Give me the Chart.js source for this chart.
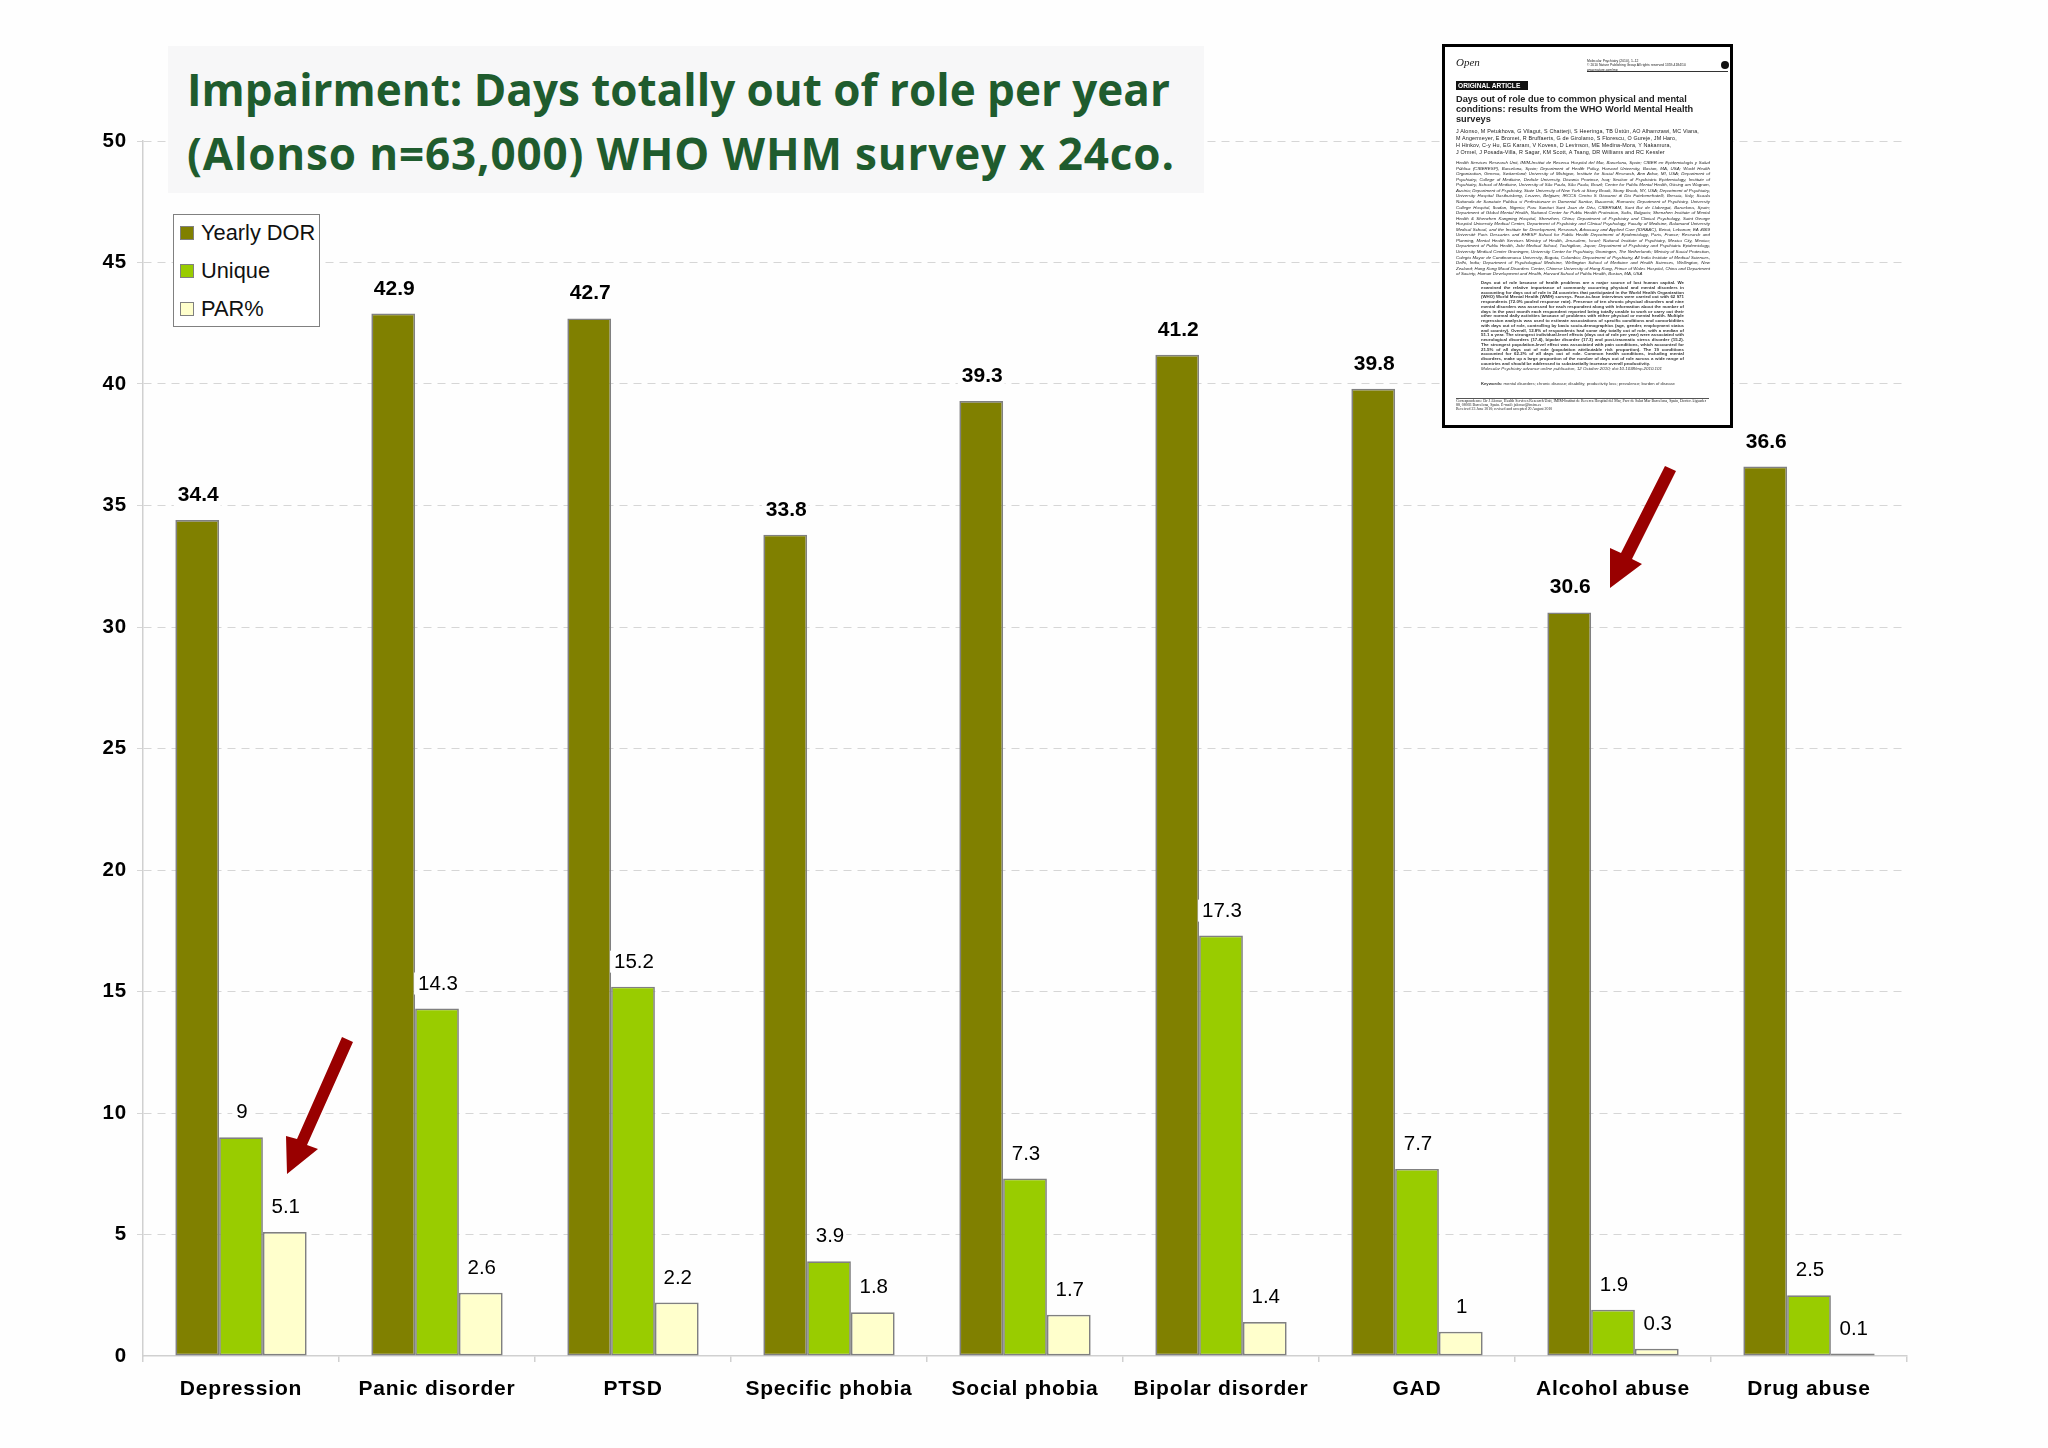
<!DOCTYPE html>
<html>
<head>
<meta charset="utf-8">
<title>Impairment: Days totally out of role per year</title>
<script src="https://cdn.jsdelivr.net/npm/chart.js@4"></script>
<style>
  html, body { margin: 0; padding: 0; background: #fefefe; }
  #page { position: relative; width: 2048px; height: 1448px; overflow: hidden; }
  #grafico { position: absolute; left: 0; top: 0; }
  #titulo {
    position: absolute; left: 168px; top: 46px; width: 1036px; height: 147px;
    background: #f7f7f8; color: #1f5c2e; font: bold 44px/64px "Open Sans", sans-serif;
    white-space: nowrap; box-sizing: border-box; padding: 11px 0 0 19px;
  }
  #titulo span { letter-spacing: 0.85px; }
  #legenda {
    position: absolute; left: 173px; top: 214px; width: 147px; height: 113px; box-sizing: border-box;
    background: #fff; border: 1.5px solid #808080; font: 21.8px "Liberation Sans", sans-serif; color: #111;
  }
  #legenda div { position: absolute; left: 27px; white-space: nowrap; line-height: 24px; }
  #legenda i { position: absolute; left: -21px; top: 5px; width: 14px; height: 14px; box-sizing: border-box; border: 1.5px solid #808080; }
  #setas { position: absolute; left: 0; top: 0; }
  #artigo {
    position: absolute; left: 1442px; top: 44px; width: 291px; height: 384px; box-sizing: border-box;
    background: #fff; border: 3px solid #000; font-family: "Liberation Sans", sans-serif; color: #222;
    filter: blur(0.25px);
  }
  #artigo div { position: absolute; left: 11px; }
  #a-open { top: 9px; font: italic 11px "Liberation Serif", serif; }
  #a-rev { left: 142px !important; top: 12px; font-size: 3.4px; line-height: 4.4px; white-space: nowrap; }
  #a-linha { left: 142px !important; top: 24px; width: 141px; height: 1px; background: #333; }
  #a-ponto { left: 276px !important; top: 14px; width: 8px; height: 8px; border-radius: 4px; background: #111; }
  #a-tag { top: 34px; width: 72px; height: 9px; background: #111; color: #fff; font: bold 6.6px/9px "Liberation Sans", sans-serif; text-indent: 2px; }
  #a-tit { top: 48px; width: 250px; font: bold 9.2px/9.9px "Liberation Sans", sans-serif; color: #222; }
  #a-aut { top: 81px; width: 262px; font-size: 5.4px; line-height: 7px; letter-spacing: 0.15px; white-space: nowrap; }
  #a-afi { top: 113px; width: 254px; font-style: italic; font-size: 4.4px; line-height: 5.57px; text-align: justify; }
  #a-res { left: 36px !important; top: 234px; width: 203px; font-size: 4.4px; line-height: 4.75px; text-align: justify; font-weight: bold; color: #333; }
  #a-cha { left: 36px !important; top: 334px; width: 203px; font-size: 4.2px; line-height: 5px; color: #333; }
  #a-rod { top: 351px; width: 253px; border-top: 0.7px solid #555; padding-top: 1px; font: 3.9px/3.9px "Liberation Serif", serif; }
</style>
</head>
<body>
<div id="page">
  <canvas id="grafico" width="2048" height="1448"></canvas>
  <div id="titulo">Impairment: Days totally out of role per year<br><span>(Alonso n=63,000) WHO WHM survey x 24co.</span></div>
  <div id="legenda"></div>
  <svg id="setas" width="2048" height="1448">
    <polygon fill="#990000" points="342,1037 353,1042 307,1145 318,1149 287,1174 286,1136 297,1139"/>
    <polygon fill="#990000" points="1665,466 1676,471 1632,559 1642,564 1610,588 1610,548 1621,553"/>
  </svg>
  <div id="artigo">
    <div id="a-open">Open</div>
    <div id="a-rev">Molecular Psychiatry (2010), 1–12<br>© 2010 Nature Publishing Group  All rights reserved 1359-4184/10<br>www.nature.com/mp</div>
    <div id="a-linha"></div>
    <div id="a-ponto"></div>
    <div id="a-tag">ORIGINAL ARTICLE</div>
    <div id="a-tit">Days out of role due to common physical and mental conditions: results from the WHO World Mental Health surveys</div>
    <div id="a-aut">J Alonso, M Petukhova, G Vilagut, S Chatterji, S Heeringa, TB Üstün, AO Alhamzawi, MC Viana,<br>M Angermeyer, E Bromet, R Bruffaerts, G de Girolamo, S Florescu, O Gureje, JM Haro,<br>H Hinkov, C-y Hu, EG Karam, V Kovess, D Levinson, ME Medina-Mora, Y Nakamura,<br>J Ormel, J Posada-Villa, R Sagar, KM Scott, A Tsang, DR Williams and RC Kessler</div>
    <div id="a-afi">Health Services Research Unit, IMIM-Institut de Recerca Hospital del Mar, Barcelona, Spain; CIBER en Epidemiología y Salud Pública (CIBERESP), Barcelona, Spain; Department of Health Policy, Harvard University, Boston, MA, USA; World Health Organization, Geneva, Switzerland; University of Michigan, Institute for Social Research, Ann Arbor, MI, USA; Department of Psychiatry, College of Medicine, Dedicle University, Diwania Province, Iraq; Section of Psychiatric Epidemiology, Institute of Psychiatry, School of Medicine, University of São Paulo, São Paulo, Brazil; Centre for Public Mental Health, Gösing am Wagram, Austria; Department of Psychiatry, State University of New York at Stony Brook, Stony Brook, NY, USA; Department of Psychiatry, University Hospital Gasthuisberg, Leuven, Belgium; IRCCS Centro S Giovanni di Dio Fatebenefratelli, Brescia, Italy; Scoala Nationala de Sanatate Publica si Perfectionare in Domeniul Sanitar, Bucuresti, Romania; Department of Psychiatry, University College Hospital, Ibadan, Nigeria; Parc Sanitari Sant Joan de Déu, CIBERSAM, Sant Boi de Llobregat, Barcelona, Spain; Department of Global Mental Health, National Center for Public Health Protection, Sofia, Bulgaria; Shenzhen Institute of Mental Health &amp; Shenzhen Kangning Hospital, Shenzhen, China; Department of Psychiatry and Clinical Psychology, Saint George Hospital University Medical Center, Department of Psychiatry and Clinical Psychology, Faculty of Medicine, Balamand University Medical School, and the Institute for Development, Research, Advocacy and Applied Care (IDRAAC), Beirut, Lebanon; EA 4069 Université Paris Descartes and EHESP School for Public Health Department of Epidemiology, Paris, France; Research and Planning, Mental Health Services Ministry of Health, Jerusalem, Israel; National Institute of Psychiatry, Mexico City, Mexico; Department of Public Health, Jichi Medical School, Tochigikan, Japan; Department of Psychiatry and Psychiatric Epidemiology, University Medical Center Groningen, University Center for Psychiatry, Groningen, The Netherlands; Ministry of Social Protection, Colegio Mayor de Cundinamarca University, Bogota, Colombia; Department of Psychiatry, All India Institute of Medical Sciences, Delhi, India; Department of Psychological Medicine, Wellington School of Medicine and Health Sciences, Wellington, New Zealand; Hong Kong Mood Disorders Center, Chinese University of Hong Kong, Prince of Wales Hospital, China and Department of Society, Human Development and Health, Harvard School of Public Health, Boston, MA, USA</div>
    <div id="a-res">Days out of role because of health problems are a major source of lost human capital. We examined the relative importance of commonly occurring physical and mental disorders in accounting for days out of role in 24 countries that participated in the World Health Organization (WHO) World Mental Health (WMH) surveys. Face-to-face interviews were carried out with 62 971 respondents (72.0% pooled response rate). Presence of ten chronic physical disorders and nine mental disorders was assessed for each respondent along with information about the number of days in the past month each respondent reported being totally unable to work or carry out their other normal daily activities because of problems with either physical or mental health. Multiple regression analysis was used to estimate associations of specific conditions and comorbidities with days out of role, controlling by basic socio-demographics (age, gender, employment status and country). Overall, 12.8% of respondents had some day totally out of role, with a median of 51.1 a year. The strongest individual-level effects (days out of role per year) were associated with neurological disorders (17.4), bipolar disorder (17.3) and post-traumatic stress disorder (15.2). The strongest population-level effect was associated with pain conditions, which accounted for 21.5% of all days out of role (population attributable risk proportion). The 19 conditions accounted for 62.2% of all days out of role. Common health conditions, including mental disorders, make up a large proportion of the number of days out of role across a wide range of countries and should be addressed to substantially increase overall productivity.<br><span style="font-weight:normal;font-style:italic">Molecular Psychiatry advance online publication, 12 October 2010; doi:10.1038/mp.2010.101</span></div>
    <div id="a-cha"><b>Keywords:</b> mental disorders; chronic disease; disability; productivity loss; prevalence; burden of disease</div>
    <div id="a-rod">Correspondence: Dr J Alonso, Health Services Research Unit, IMIM-Institut de Recerca Hospital del Mar, Parc de Salut Mar Barcelona, Spain, Doctor Aiguader 88, 08003 Barcelona, Spain. E-mail: jalonso@imim.es<br>Received 23 June 2010; revised and accepted 20 August 2010</div>
  </div>
</div>
<script>
const categorias = ["Depression", "Panic disorder", "PTSD", "Specific phobia", "Social phobia", "Bipolar disorder", "GAD", "Alcohol abuse", "Drug abuse"]
const yearlyDor = [34.4, 42.9, 42.7, 33.8, 39.3, 41.2, 39.8, 30.6, 36.6]
const unique = [9, 14.3, 15.2, 3.9, 7.3, 17.3, 7.7, 1.9, 2.5]
const par = [5.1, 2.6, 2.2, 1.8, 1.7, 1.4, 1, 0.3, 0.1]
const nomesSeries = ["Yearly DOR", "Unique", "PAR%"]
const cores = ["#808000", "#99cc00", "#ffffcc"]

const legenda = document.getElementById("legenda")
nomesSeries.forEach((nome, i) => {
  const item = document.createElement("div")
  item.style.top = 6 + i * 38 + "px"
  item.innerHTML = `<i style="background:${cores[i]}"></i>${nome}`
  legenda.appendChild(item)
})

// rotulos acima das barras, a primeira serie em negrito
const rotulos = {
  id: "rotulos",
  afterDatasetsDraw(chart) {
    const ctx = chart.ctx
    ctx.save()
    ctx.letterSpacing = "0px"
    ctx.textAlign = "center"
    ctx.textBaseline = "alphabetic"
    chart.data.datasets.forEach((ds, i) => {
      ctx.font = i === 0 ? 'bold 21px "Liberation Sans"' : '20.5px "Liberation Sans"'
      chart.getDatasetMeta(i).data.forEach((barra, j) => {
        const txt = String(ds.data[j])
        const w = ctx.measureText(txt).width
        ctx.fillStyle = "#fefefe"
        ctx.fillRect(barra.x - w / 2 - 3, barra.y - 36, w + 6, 22)
        ctx.fillStyle = "#000"
        ctx.fillText(txt, barra.x + 1, barra.y - 19)
      })
    })
    ctx.restore()
  }
}

// os nomes das categorias sao um pouco espacados no original
const espacamento = {
  id: "espacamento",
  beforeDraw(chart) { chart.ctx.letterSpacing = "0.8px" },
  beforeDatasetsDraw(chart) { chart.ctx.letterSpacing = "0px" }
}

new Chart(document.getElementById("grafico"), {
  type: "bar",
  data: {
    labels: categorias,
    datasets: [yearlyDor, unique, par].map((valores, i) => ({
      label: nomesSeries[i],
      data: valores,
      backgroundColor: cores[i],
      borderColor: "#808080",
      borderWidth: 1.7,
      borderSkipped: false,
      categoryPercentage: 0.67,
      barPercentage: 1
    }))
  },
  options: {
    responsive: false,
    animation: false,
    devicePixelRatio: 1,
    layout: { padding: { top: 141, right: 141, left: 0, bottom: 0 } },
    plugins: { legend: { display: false }, tooltip: { enabled: false } },
    scales: {
      x: {
        afterFit(scale) { scale.height = 92 },
        grid: { drawOnChartArea: false, color: "#d0d0d0", lineWidth: 1.5, tickLength: 6 },
        border: { color: "#d0d0d0", width: 1.5 },
        ticks: { color: "#000", padding: 15, maxRotation: 0, font: { family: "Liberation Sans", size: 21, weight: "bold" } }
      },
      y: {
        min: 0,
        max: 50,
        afterFit(scale) { scale.width = 143 },
        grid: {
          color: (c) => (c.tick.value === 0 ? "rgba(0,0,0,0)" : "#d6d6d6"),
          lineWidth: 1,
          tickLength: 6,
          tickBorderDash: [8, 6]
        },
        border: { color: "#d0d0d0", width: 1.5, dash: [8, 6] },
        ticks: { stepSize: 5, color: "#000", padding: 10, font: { family: "Liberation Sans", size: 20.5, weight: "bold" } }
      }
    }
  },
  plugins: [espacamento, rotulos]
})
</script>
</body>
</html>
